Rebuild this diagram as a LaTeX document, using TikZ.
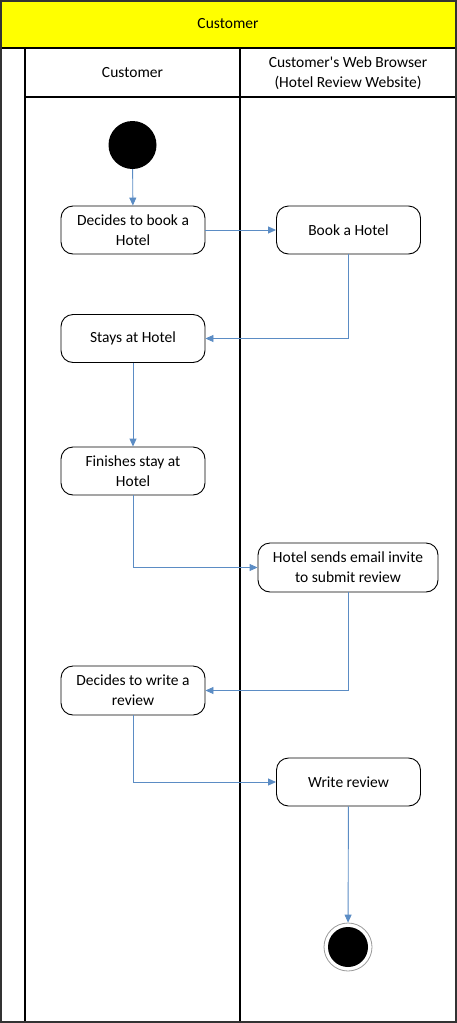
\documentclass[tikz,border=0pt]{standalone}
\usepackage{fontspec}
\setmainfont{Carlito}
\usetikzlibrary{arrows.meta}
\definecolor{flow}{HTML}{5B8CC4}
\definecolor{hdr}{HTML}{FFFF00}
\tikzset{
  act/.style={draw=black, line width=0.9pt, rounded corners=12pt, fill=white,
    minimum width=144pt, minimum height=48pt, align=center, inner sep=2pt,
    font=\fontsize{15.5}{20}\selectfont},
  lane/.style={draw=black, line width=1.2pt},
  flowline/.style={draw=flow, line width=0.9pt, -{Triangle[length=8pt,width=7pt]}},
  lbl/.style={font=\fontsize{15.5}{20}\selectfont, align=center},
}
\begin{document}
\begin{tikzpicture}[x=1pt,y=-1pt]
\useasboundingbox (0,0) rectangle (457,1023);
% header
\fill[hdr] (0,0) rectangle (456,48);
\draw[lane] (0,48) -- (456,48);
\node[lbl] (title) at (228,24) {Customer};
% lanes
\draw[lane] (25,48) -- (25,1022);
\draw[lane] (240,48) -- (240,1022);
\draw[lane] (25,97) -- (456,97);
\node[lbl] (lane1) at (132.5,73) {Customer};
\node[lbl] (lane2) at (348,73) {Customer\textquotesingle s Web Browser\\(Hotel Review Website)};
\draw[line width=1.6pt, draw=black!80] (0.8,0.8) rectangle (456.2,1022.2);
% nodes
\node[circle, fill=black, minimum size=48pt, inner sep=0pt] (start) at (132.5,145) {};
\node[act] (dec) at (133,230) {Decides to book a\\Hotel};
\node[act] (book) at (348.5,230) {Book a Hotel};
\node[act] (stay) at (133,338.5) {Stays at Hotel};
\node[act] (fin) at (133,471) {Finishes stay at\\Hotel};
\node[act, minimum width=180pt, minimum height=49pt] (mail) at (348,567.5) {Hotel sends email invite\\to submit review};
\node[act, minimum height=49pt] (decw) at (133,690.5) {Decides to write a\\review};
\node[act] (write) at (348.5,782) {Write review};
\node[circle, draw=black!40, line width=0.8pt, minimum size=48pt, inner sep=0pt] (endo) at (348,947) {};
\node[circle, fill=black, minimum size=40pt, inner sep=0pt] (end) at (348,947) {};
% flows
\draw[flowline] (start) -- (dec);
\draw[flowline] (dec) -- (book);
\draw[flowline] (book.south) |- (stay.east);
\draw[flowline] (stay) -- (fin);
\draw[flowline] (fin.south) |- (mail.west);
\draw[flowline] (mail.south) |- (decw.east);
\draw[flowline] (decw.south) |- (write.west);
\draw[flowline] (write) -- (endo);
\end{tikzpicture}
\end{document}
